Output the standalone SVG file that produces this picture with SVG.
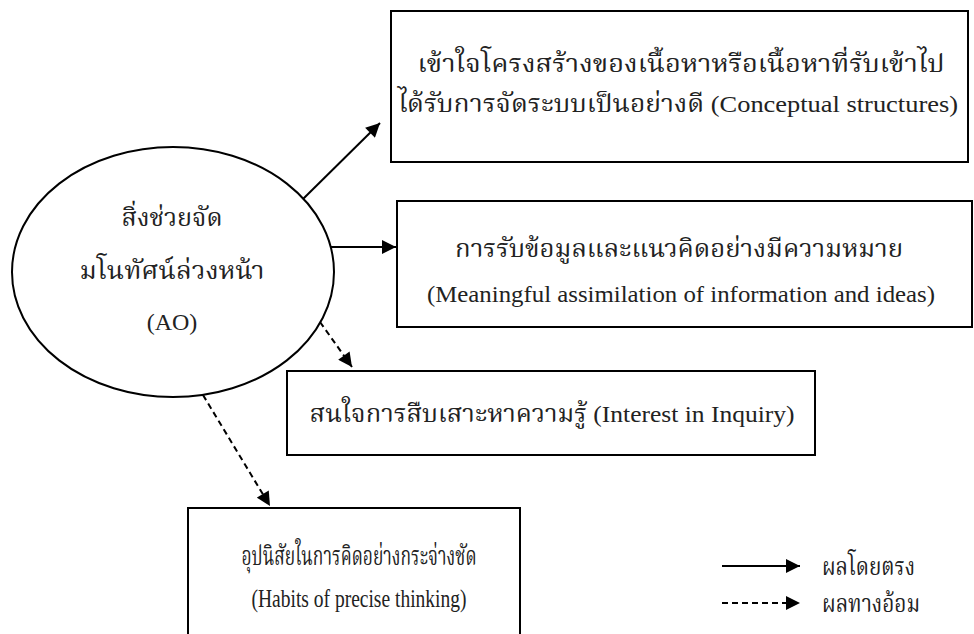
<svg xmlns="http://www.w3.org/2000/svg" width="974" height="634" viewBox="0 0 974 634">
<style>
.box{fill:#fff;stroke:#000;stroke-width:2}
.t{font-family:"Liberation Serif","Noto Serif Thai","Noto Sans Thai",serif;font-size:24px;fill:#222;text-anchor:middle}
.ts{font-family:"Liberation Serif","Noto Serif Thai","Noto Sans Thai",serif;font-size:26px;fill:#222;text-anchor:middle}
.tl{font-family:"Liberation Serif","Noto Serif Thai","Noto Sans Thai",serif;font-size:24px;fill:#222}
.solid{stroke:#000;stroke-width:2;fill:none}
.dash{stroke:#000;stroke-width:2;fill:none;stroke-dasharray:6 4}
</style>
<defs>
<marker id="ahb" viewBox="0 0 12 12" refX="12" refY="6" markerWidth="16" markerHeight="14" markerUnits="userSpaceOnUse" orient="auto">
<path d="M0,0 L12,6 L0,12 z" fill="#000"/>
</marker>
</defs>
<rect width="974" height="634" fill="#fff"/>
<g id="connectors">
<line class="solid" x1="303" y1="199" x2="380" y2="123" marker-end="url(#ahb)"/>
<line class="solid" x1="330" y1="247" x2="396" y2="247" marker-end="url(#ahb)"/>
<line class="dash" x1="320" y1="322" x2="352" y2="367" marker-end="url(#ahb)"/>
<line class="dash" x1="203" y1="395" x2="270" y2="506" marker-end="url(#ahb)"/>
</g>
<g id="node-ao">
<ellipse cx="173" cy="272" rx="161" ry="125" fill="#fff" stroke="#000" stroke-width="2"/>
<text class="t" x="172" y="226" textLength="101" lengthAdjust="spacingAndGlyphs">สิ่งช่วยจัด</text>
<text class="t" x="172" y="279" textLength="185" lengthAdjust="spacingAndGlyphs">มโนทัศน์ล่วงหน้า</text>
<text class="t" x="172" y="330">(AO)</text>
</g>
<g id="node-conceptual">
<rect class="box" x="391" y="11" width="577" height="151"/>
<text class="t" x="681" y="72" textLength="527" lengthAdjust="spacingAndGlyphs">เข้าใจโครงสร้างของเนื้อหาหรือเนื้อหาที่รับเข้าไป</text>
<text class="t" x="678" y="112" textLength="560" lengthAdjust="spacingAndGlyphs">ได้รับการจัดระบบเป็นอย่างดี (Conceptual structures)</text>
</g>
<g id="node-meaningful">
<rect class="box" x="397" y="201" width="575" height="126"/>
<text class="t" x="679" y="257" textLength="448" lengthAdjust="spacingAndGlyphs">การรับข้อมูลและแนวคิดอย่างมีความหมาย</text>
<text class="t" x="681" y="302" textLength="508" lengthAdjust="spacingAndGlyphs">(Meaningful assimilation of information and ideas)</text>
</g>
<g id="node-inquiry">
<rect class="box" x="287" y="371" width="528" height="84"/>
<text class="t" x="552" y="422" textLength="485" lengthAdjust="spacingAndGlyphs">สนใจการสืบเสาะหาความรู้ (Interest in Inquiry)</text>
</g>
<g id="node-habits">
<rect class="box" x="188" y="508" width="332" height="140"/>
<text class="ts" x="359" y="565" textLength="235" lengthAdjust="spacingAndGlyphs">อุปนิสัยในการคิดอย่างกระจ่างชัด</text>
<text class="ts" x="359" y="607" textLength="215" lengthAdjust="spacingAndGlyphs">(Habits of precise thinking)</text>
</g>
<g id="legend">
<line class="solid" x1="722" y1="566" x2="800" y2="566" marker-end="url(#ahb)"/>
<line class="dash" x1="722" y1="603" x2="800" y2="603" stroke-dasharray="4 3" marker-end="url(#ahb)"/>
<text class="tl" x="822" y="575" textLength="93" lengthAdjust="spacingAndGlyphs">ผลโดยตรง</text>
<text class="tl" x="822" y="612" textLength="98" lengthAdjust="spacingAndGlyphs">ผลทางอ้อม</text>
</g>
</svg>
